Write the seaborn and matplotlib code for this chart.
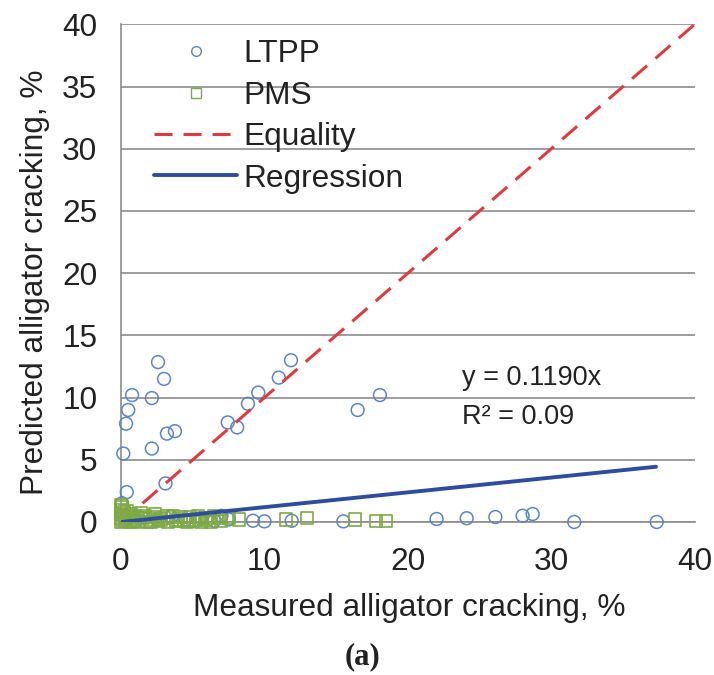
import matplotlib
matplotlib.use("Agg")
import matplotlib.pyplot as plt
import seaborn as sns
import pandas as pd
from matplotlib.lines import Line2D

# ---- data ----
ltpp_x = [0.07, 0.4, 0.16, 0.35, 0.5, 0.77, 2.15, 2.58, 3.0, 3.2, 3.76, 2.15, 3.1,
          7.44, 8.1, 8.85, 9.57, 11.0, 11.85, 16.5, 18.05,
          22.0, 24.1, 26.1, 28.0, 28.7, 31.6, 37.35,
          0.1, 0.3, 1.0, 1.5, 2.5, 3.5, 4.5, 5.5, 6.5, 7.0, 7.5, 9.2, 10.0, 11.9, 15.5]
ltpp_y = [1.5, 2.4, 5.5, 7.9, 9.0, 10.2, 9.96, 12.85, 11.5, 7.1, 7.3, 5.9, 3.1,
          8.0, 7.6, 9.5, 10.4, 11.6, 13.0, 9.0, 10.2,
          0.24, 0.3, 0.4, 0.5, 0.64, 0.0, 0.0,
          0.5, 0.2, 0.1, 0.3, 0.2, 0.4, 0.2, 0.3, 0.1, 0.5, 0.2, 0.1, 0.05, 0.1, 0.05]

pms_x = [0.0, 0.0, 0.0, 0.0, 0.1, 0.2, 0.3, 0.5, 0.6, 0.8, 1.0, 1.2, 1.5, 1.8, 2.0,
         2.3, 2.6, 3.0, 3.3, 3.6, 4.0, 4.4, 4.8, 5.2, 5.6, 6.0, 6.5, 7.0, 7.5, 8.2,
         0.0, 0.1, 0.2, 0.4, 0.7, 0.9, 1.1, 1.4, 1.7, 2.1, 2.4, 2.8, 3.2, 3.8,
         4.2, 4.6, 5.0, 5.4, 5.9, 6.3, 6.8,
         11.5, 13.0, 16.3, 17.8, 18.5]
pms_y = [0.0, 0.3, 0.6, 1.0, 0.2, 0.8, 0.1, 0.4, 0.0, 0.2, 0.5, 0.1, 0.3, 0.0, 0.2,
         0.4, 0.1, 0.3, 0.0, 0.5, 0.2, 0.1, 0.4, 0.2, 0.0, 0.3, 0.5, 0.1, 0.3, 0.2,
         1.4, 1.2, 0.5, 0.9, 0.6, 0.0, 0.3, 0.7, 0.5, 0.0, 0.6, 0.2, 0.5, 0.1,
         0.4, 0.0, 0.1, 0.5, 0.2, 0.0, 0.3,
         0.2, 0.3, 0.2, 0.1, 0.1]

eq_x = [1.5, 40.0]
eq_y = [1.5, 40.0]
reg_x = [0.0, 37.3]
reg_y = [0.0, 4.44]

y_ticks = [0, 5, 10, 15, 20, 25, 30, 35, 40]
x_ticks = [0, 10, 20, 30, 40]

# ---- style ----
sns.set_theme(style="white")
plt.rcParams['font.family'] = ['Liberation Sans', 'DejaVu Sans']

FS = 22.8
C_TXT = "#222222"
C_LTPP = "#5a85c6"
C_PMS = "#7eaa44"
C_EQ = "#e03a3f"
C_REG = "#2f4d9f"
C_GRID = "#8c8c8c"

fig = plt.figure(figsize=(7.14, 6.75), dpi=100)
ax = fig.add_axes([0.1695, 0.2267, 0.8035, 0.7373])

ltpp = pd.DataFrame({"x": ltpp_x, "y": ltpp_y})
pms = pd.DataFrame({"x": pms_x, "y": pms_y})
eq = pd.DataFrame({"x": eq_x, "y": eq_y})
reg = pd.DataFrame({"x": reg_x, "y": reg_y})

sns.scatterplot(data=ltpp, x="x", y="y", ax=ax, marker="o", s=85,
                facecolor="none", edgecolor=C_LTPP, linewidth=1.1, zorder=3,
                clip_on=False)
sns.scatterplot(data=pms, x="x", y="y", ax=ax, marker="s", s=75,
                facecolor="none", edgecolor=C_PMS, linewidth=1.2, zorder=3,
                clip_on=False)
sns.lineplot(data=eq, x="x", y="y", ax=ax, color=C_EQ, linewidth=2.2,
             linestyle=(0, (6.5, 3.6)), zorder=4)
sns.lineplot(data=reg, x="x", y="y", ax=ax, color=C_REG, linewidth=2.8, zorder=4)

ax.set_xlim(0, 40)
ax.set_ylim(0, 40)
ax.set_xticks(x_ticks)
ax.set_yticks(y_ticks)
ax.set_xticklabels([str(t) for t in x_ticks])
ax.set_yticklabels([str(t) for t in y_ticks])
ax.yaxis.grid(True, color=C_GRID, linewidth=1.2)
ax.xaxis.grid(False)
ax.set_axisbelow(True)
for s in ["top", "right"]:
    ax.spines[s].set_visible(False)
for s in ["left", "bottom"]:
    ax.spines[s].set_color(C_GRID)
    ax.spines[s].set_linewidth(1.2)
ax.tick_params(axis="both", labelsize=FS, labelcolor=C_TXT, color=C_GRID,
               width=1.0, direction="out")
ax.tick_params(axis="y", length=6, pad=11)
ax.tick_params(axis="x", length=5, pad=13)

ax.set_xlabel("Measured alligator cracking, %", fontsize=FS, color=C_TXT)
ax.set_ylabel("Predicted alligator cracking, %", fontsize=FS, color=C_TXT)
ax.xaxis.set_label_coords(0.502, -0.142)
ax.yaxis.set_label_coords(-0.124, 0.482)

ax.text(23.8, 11.57, "y = 0.1190x", fontsize=19.5, color=C_TXT, va="center", ha="left")
ax.text(23.8, 8.45, "R² = 0.09", fontsize=19.5, color=C_TXT, va="center", ha="left")

handles = [
    Line2D([], [], marker="o", linestyle="none", markersize=7, markerfacecolor="none",
           markeredgecolor=C_LTPP, markeredgewidth=1.0),
    Line2D([], [], marker="s", linestyle="none", markersize=7, markerfacecolor="none",
           markeredgecolor=C_PMS, markeredgewidth=1.0),
    Line2D([], [], color=C_EQ, linewidth=2.2, linestyle=(0, (5.9, 3.6))),
    Line2D([], [], color=C_REG, linewidth=2.8),
]
labels = ["LTPP", "PMS", "Equality", "Regression"]
leg = ax.legend(handles, labels, loc="upper left", bbox_to_anchor=(0.025, 1.008),
                frameon=False, fontsize=FS, handlelength=2.6, handletextpad=0.2,
                labelspacing=0.36, borderaxespad=0.2)
for t in leg.get_texts():
    t.set_color(C_TXT)

fig.text(0.508, 0.027, "(a)", fontsize=22, fontweight="bold",
         family=["Liberation Serif", "DejaVu Serif"], ha="center", va="center",
         color=C_TXT)

fig.savefig("out.png", dpi=100)
